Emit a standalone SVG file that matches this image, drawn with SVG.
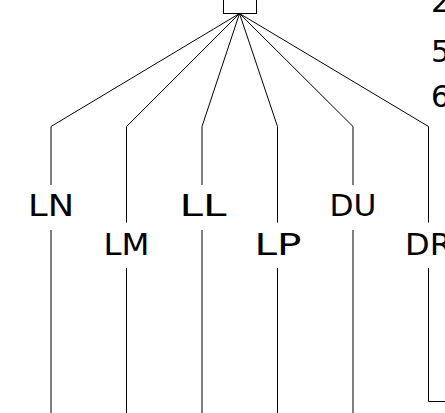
<svg xmlns="http://www.w3.org/2000/svg" width="445" height="413" viewBox="0 0 445 413">
<style>
.e{fill:none;stroke:#000;stroke-width:1}
.n{fill:#fff;stroke:#000;stroke-width:1}
.t{font-family:"DejaVu Sans","Liberation Sans",sans-serif;font-size:30px;fill:#000}
</style>
<rect width="445" height="413" fill="#fff"/>
<g id="edges">
<path class="e" d="M239.5,13.5 L51,126.5 L51,185 M51,230 L51,413"/>
<path class="e" d="M239.5,13.5 L126.5,126.5 L126.5,222.5 M126.5,268 L126.5,413"/>
<path class="e" d="M239.5,13.5 L202,126.5 L202,185 M202,230 L202,413"/>
<path class="e" d="M239.5,13.5 L277.5,126.5 L277.5,222.5 M277.5,268 L277.5,413"/>
<path class="e" d="M239.5,13.5 L353,126.5 L353,185 M353,230 L353,413"/>
<path class="e" d="M239.5,13.5 L428.5,126.5 L428.5,222.5 M428.5,268 L428.5,401.5 L446,401.5"/>
<text class="t" x="51" y="215.5" text-anchor="middle" textLength="46" lengthAdjust="spacingAndGlyphs">LN</text>
<text class="t" x="126.5" y="255" text-anchor="middle" textLength="46" lengthAdjust="spacingAndGlyphs">LM</text>
<text class="t" x="203" y="215.5" text-anchor="middle" textLength="47" lengthAdjust="spacingAndGlyphs">LL</text>
<text class="t" x="278" y="255" text-anchor="middle" textLength="47" lengthAdjust="spacingAndGlyphs">LP</text>
<text class="t" x="353" y="215.5" text-anchor="middle" textLength="47" lengthAdjust="spacingAndGlyphs">DU</text>
<text class="t" x="428.5" y="255" text-anchor="middle" textLength="47" lengthAdjust="spacingAndGlyphs">DR</text>
</g>
<g id="root">
<rect class="n" x="223.5" y="-10" width="33" height="23.5"/>
</g>
<g id="side">
<text class="t" x="431" y="12.3">2</text>
<text class="t" x="431" y="62">5</text>
<text class="t" x="431" y="107">6</text>
</g>
</svg>
